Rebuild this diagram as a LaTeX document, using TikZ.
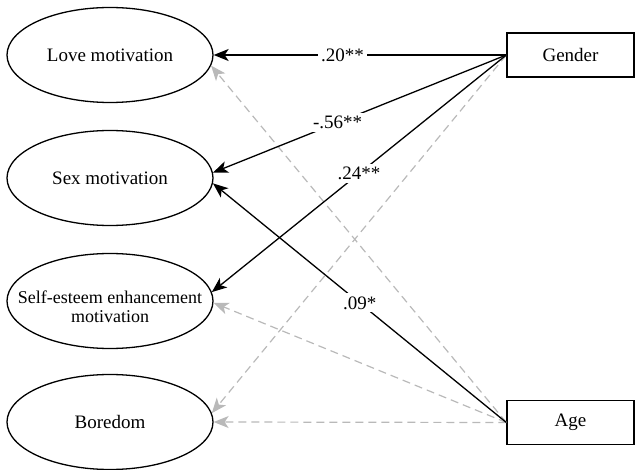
\documentclass[tikz,border=0pt]{standalone}
\usepackage{fontspec}
\setmainfont{Liberation Serif}
\usepackage{tikz}
\usetikzlibrary{arrows.meta,shapes.geometric}

\definecolor{pathgray}{RGB}{185,185,185}

\begin{document}
\begin{tikzpicture}[x=1pt,y=-1pt,
        font=\fontsize{19}{20}\selectfont,
        factor/.style={ellipse,draw,line width=1.3pt,minimum width=206pt,minimum height=95pt,inner sep=0pt,align=center},
        observed/.style={rectangle,draw,line width=1.3pt,minimum width=127pt,minimum height=44pt},
        sig/.style={line width=1.3pt,-{Stealth[length=15pt,width=12pt,inset=4pt]}},
        nonsig/.style={line width=1.2pt,pathgray,dash pattern=on 8pt off 5pt,-{Stealth[length=15pt,width=12pt,inset=4pt]}},
        coef/.style={fill=white,inner sep=3pt}]
        \useasboundingbox (0,0) rectangle (635,470);

        \node[factor] at (110, 55) (love) {Love motivation};
        \node[factor] at (110, 178) (sex) {Sex motivation};
        \node[factor,label={[align=center,yshift=-6pt,font=\fontsize{18}{19}\selectfont]center:Self-esteem enhancement\\motivation}] at (110, 301) (self) {};
        \node[factor] at (110, 422) (boredom) {Boredom};
        \node[observed] at (570.5, 55) (gender) {Gender};
        \node[observed] at (570.5, 422.5) (age) {Age};

        \draw[nonsig](age.west) -- (love.-6);
        \draw[nonsig](gender.west) -- (boredom.5);
        \draw[nonsig](age.west) -- (self.-1);
        \draw[nonsig](age.west) -- (boredom.east);

        \draw[sig](gender.west) -- node[coef,pos=.56] {.20**} (love.east);
        \draw[sig](gender.west) -- node[coef,pos=.575] {-.56**} (sex.3);
        \draw[sig](gender.west) -- node[coef,pos=.5] {.24**} (self.5);
        \draw[sig](age.west) -- node[coef,pos=.5] {.09*} (sex.-3);
    \end{tikzpicture}
\end{document}
